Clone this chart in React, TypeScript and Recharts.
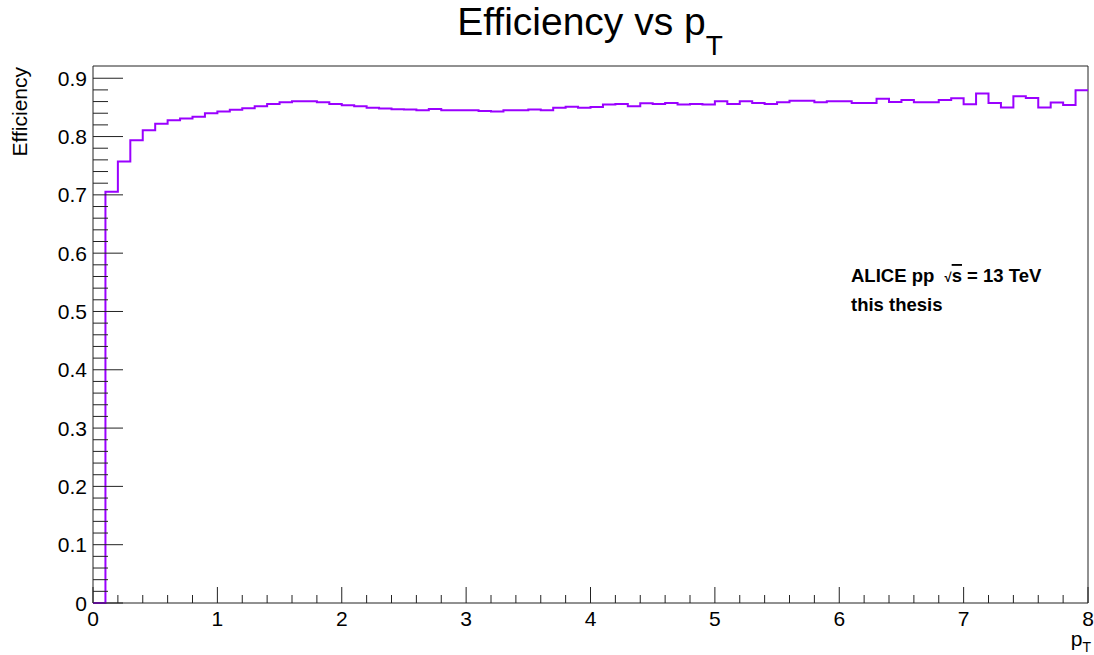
import { LineChart, Line, XAxis, YAxis, ReferenceArea } from "recharts";

// efficiency per pT bin (bin width 0.1, 0 -> 8)
const binWidth = 0.1;
const efficiency = [
  0, 0.7055, 0.757, 0.7935, 0.811, 0.822, 0.828, 0.831, 0.834, 0.84,
  0.843, 0.846, 0.8485, 0.852, 0.856, 0.859, 0.8605, 0.8605, 0.859, 0.856,
  0.8536, 0.852, 0.8496, 0.848, 0.847, 0.8462, 0.845, 0.8473, 0.845, 0.845,
  0.845, 0.8439, 0.8428, 0.845, 0.845, 0.8462, 0.845, 0.8496, 0.8513, 0.8496,
  0.8508, 0.8548, 0.856, 0.852, 0.857, 0.856, 0.8577, 0.8548, 0.856, 0.8548,
  0.8605, 0.856, 0.8605, 0.8577, 0.856, 0.859, 0.8616, 0.8616, 0.859, 0.8605,
  0.8605, 0.8577, 0.8577, 0.865, 0.8594, 0.8628, 0.859, 0.859, 0.8628, 0.8656,
  0.8553, 0.8737, 0.8577, 0.85, 0.869, 0.866, 0.85, 0.8582, 0.8543, 0.8794,
];

const xLabels = ["0", "1", "2", "3", "4", "5", "6", "7", "8"];
const yLabels = ["0", "0.1", "0.2", "0.3", "0.4", "0.5", "0.6", "0.7", "0.8", "0.9"];

const data = efficiency.map((eff, i) => ({ pt: i * binWidth, eff }));
data.push({ pt: efficiency.length * binWidth, eff: efficiency[efficiency.length - 1] });

const xTicks = Array.from({ length: 41 }, (_, i) => i / 5);
const yTicks = Array.from({ length: 46 }, (_, i) => i / 50);

const FONT = "'Liberation Sans', Arial, Helvetica, sans-serif";
const INK = "#222";

const XTick = ({ x, y, payload }: any) => {
  const idx = Math.round(payload.value * 5);
  const major = idx % 5 === 0;
  return (
    <g>
      <line x1={x} x2={x} y1={y} y2={y - (major ? 16 : 8)} stroke={INK} strokeWidth={1} />
      {major && (
        <text x={x} y={y + 23} textAnchor="middle" fontSize={21} fontFamily={FONT} fill="#000">
          {xLabels[idx / 5]}
        </text>
      )}
    </g>
  );
};

const YTick = ({ x, y, payload }: any) => {
  const idx = Math.round(payload.value * 50);
  const major = idx % 5 === 0;
  return (
    <g>
      <line x1={x} x2={x + (major ? 30 : 15)} y1={y} y2={y} stroke={INK} strokeWidth={1} />
      {major && (
        <text x={x - 6} y={y + 7.5} textAnchor="end" fontSize={21} fontFamily={FONT} fill="#000">
          {yLabels[idx / 5]}
        </text>
      )}
    </g>
  );
};

export default function App() {
  return (
    <div style={{ position: "absolute", left: 0, top: 0, width: 1094, height: 655, background: "#fff" }}>
      <LineChart
        width={1094}
        height={655}
        data={data}
        margin={{ top: 66, right: 6, bottom: 0, left: 0 }}
      >
        <XAxis
          dataKey="pt"
          type="number"
          domain={[0, 8]}
          ticks={xTicks}
          interval={0}
          height={52}
          tickSize={0}
          tickMargin={0}
          tickLine={false}
          axisLine={false}
          tick={<XTick />}
        />
        <YAxis
          type="number"
          domain={[0, 0.921]}
          ticks={yTicks}
          interval={0}
          width={93}
          tickSize={0}
          tickMargin={0}
          tickLine={false}
          axisLine={false}
          tick={<YTick />}
        />
        <ReferenceArea x1={0} x2={8} y1={0} y2={0.921} fill="none" stroke={INK} strokeWidth={1} ifOverflow="visible" />
        <Line
          type="stepAfter"
          dataKey="eff"
          stroke="#9a00ff"
          strokeWidth={2}
          dot={false}
          isAnimationActive={false}
        />
      </LineChart>
      <svg
        width={1094}
        height={655}
        style={{ position: "absolute", left: 0, top: 0, pointerEvents: "none" }}
        fontFamily={FONT}
      >
        <text x={590} y={35} textAnchor="middle" fontSize={39} fill="#000">
          Efficiency vs p
          <tspan fontSize={28} dy={20}>T</tspan>
        </text>
        <text x={27} y={67} textAnchor="end" fontSize={21} fill="#000" transform="rotate(-90 27 67)">
          Efficiency
        </text>
        <text x={1091} y={646} textAnchor="end" fontSize={21} fill="#000">
          p<tspan fontSize={14} dy={6}>T</tspan>
        </text>
        <text x={851} y={282} fontSize={18.5} fontWeight="bold" fill="#000">
          ALICE pp {"\u00a0"}
          <tspan fontSize={13}>√</tspan>
          <tspan style={{ textDecoration: "overline" }}>s</tspan> = 13 TeV
        </text>
        <text x={851} y={311} fontSize={18.5} fontWeight="bold" fill="#000">
          this thesis
        </text>
      </svg>
    </div>
  );
}
